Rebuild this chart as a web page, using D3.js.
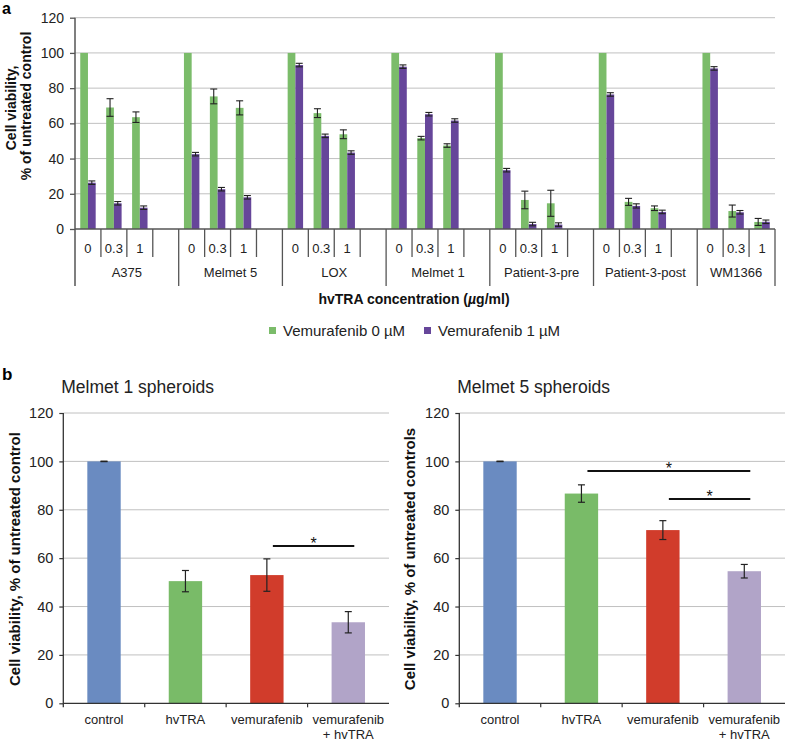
<!DOCTYPE html>
<html lang="en">
<head>
<meta charset="utf-8">
<title>Cell viability</title>
<script src="https://d3js.org/d3.v7.min.js"></script>
<style>
body{margin:0;background:#fff;font-family:"Liberation Sans",Arial,sans-serif;}
.grid line{stroke:#c0c0c0;stroke-width:1;}
</style>
</head>
<body>
<div id="chart"></div>
<script>
// ---- panel a data ----
var cellLines = ["A375","Melmet 5","LOX","Melmet 1","Patient-3-pre","Patient-3-post","WM1366"]
var concLabels = ["0","0.3","1"]
var seriesNames = ["Vemurafenib 0 µM","Vemurafenib 1 µM"]
var vem0 = [100,69,63.5, 100,75.3,68.8, 100,65.8,53.8, 100,51.6,47.4, 100,16.5,14.6, 100,15.4,11.8, 100,10.2,4]
var vem0Err = [0,5,3, 0,4.2,4, 0,2.5,2.5, 0,1,1, 0,5,7.4, 0,2,1.3, 0,3.4,2]
var vem1 = [26.3,14.6,12.1, 42.5,22.6,18, 93.1,52.9,43.4, 92.2,65.2,61.6, 33.4,2.8,2.5, 76.4,13.1,9.7, 91.2,9.5,4.1]
var vem1Err = [1,1,1, 1,1,1, 1,1,1, 1,1,1, 1,1,1, 1,1.2,1, 1,1,1]
var yTicks = [0,20,40,60,80,100,120]

// ---- panel b data ----
var treatments = ["control","hvTRA","vemurafenib","vemurafenib + hvTRA"]
var m1Vals = [100,50.5,53,33.5]
var m1Err = [0.1,4.4,6.7,4.4]
var m5Vals = [100,86.7,71.6,54.6]
var m5Err = [0.1,3.6,3.9,2.8]
// significance bars: [from, to, height]
var m1Sig = [[2,3,65]]
var m5Sig = [[1,3,96],[2,3,84.4]]

var W = 787, H = 742
var svg = d3.select("#chart").append("svg").attr("width",W).attr("height",H)

var green = "#7bbc6a", purple = "#66469a"
var axisCol = "#555"

// ================= panel a =================
var yA = d3.scaleLinear().domain([0,120]).range([229,17.7])

// slots: each cell line has 3 concentrations + an empty slot (except the last)
var slots = []
cellLines.forEach(function(c,i){
    concLabels.forEach(function(k,j){
        slots.push({key:i+"|"+j, line:i, label:k, last:(j==2 && i==cellLines.length-1)})
    })
    if(i < cellLines.length-1) slots.push({key:i+"|b", line:i, label:"", last:true})
})
var xA = d3.scaleBand().domain(slots.map(function(s){return s.key})).range([75,775])
var xSub = d3.scaleBand().domain([0,1]).range([0,xA.bandwidth()]).paddingOuter(0.68)

var ga = svg.append("g")

ga.append("g").attr("class","grid")
    .selectAll("line").data(yTicks.slice(1)).enter().append("line")
    .attr("x1",75).attr("x2",775)
    .attr("y1",function(d){return yA(d)}).attr("y2",function(d){return yA(d)})

ga.append("g").attr("transform","translate(75,0)")
    .call(d3.axisLeft(yA).tickValues(yTicks).tickSize(5).tickPadding(6))
    .call(function(g){
        g.select(".domain").remove()
        g.selectAll("line").attr("stroke",axisCol).attr("stroke-width",1.3)
        g.selectAll("text").attr("font-size",14).attr("fill","#222").attr("font-family","Liberation Sans, Arial, sans-serif")
    })

// bar data
var barsA = []
cellLines.forEach(function(c,i){
    concLabels.forEach(function(k,j){
        var n = i*3+j
        barsA.push({key:i+"|"+j, s:0, v:vem0[n], e:vem0Err[n]})
        barsA.push({key:i+"|"+j, s:1, v:vem1[n], e:vem1Err[n]})
    })
})

ga.selectAll("rect.bar").data(barsA).enter().append("rect")
    .attr("class","bar")
    .attr("x",function(d){return xA(d.key)+xSub(d.s)})
    .attr("width",xSub.bandwidth())
    .attr("y",function(d){return yA(d.v)})
    .attr("height",function(d){return yA(0)-yA(d.v)})
    .attr("fill",function(d){return d.s==0 ? green : purple})

var errA = ga.selectAll("g.err").data(barsA.filter(function(d){return d.e>0})).enter().append("g")
    .attr("stroke","#222").attr("stroke-width",1.1)
errA.append("line")
    .attr("x1",function(d){return xA(d.key)+xSub(d.s)+xSub.bandwidth()/2})
    .attr("x2",function(d){return xA(d.key)+xSub(d.s)+xSub.bandwidth()/2})
    .attr("y1",function(d){return yA(d.v-d.e)}).attr("y2",function(d){return yA(d.v+d.e)})
;[-1,1].forEach(function(sg){
    errA.append("line")
        .attr("x1",function(d){return xA(d.key)+xSub(d.s)+xSub.bandwidth()/2-3.5})
        .attr("x2",function(d){return xA(d.key)+xSub(d.s)+xSub.bandwidth()/2+3.5})
        .attr("y1",function(d){return yA(d.v+sg*d.e)}).attr("y2",function(d){return yA(d.v+sg*d.e)})
})

// axes lines
ga.append("line").attr("x1",75).attr("x2",775).attr("y1",yA(0)).attr("y2",yA(0))
    .attr("stroke",axisCol).attr("stroke-width",1.5)
ga.append("line").attr("x1",75).attr("x2",75).attr("y1",yA(120)).attr("y2",286)
    .attr("stroke",axisCol).attr("stroke-width",1.5)

// category separators and labels
ga.selectAll("line.sep").data(slots).enter().append("line")
    .attr("class","sep")
    .attr("x1",function(d){return xA(d.key)+xA.bandwidth()})
    .attr("x2",function(d){return xA(d.key)+xA.bandwidth()})
    .attr("y1",yA(0))
    .attr("y2",function(d){return d.last ? 286 : 257})
    .attr("stroke",axisCol).attr("stroke-width",1.3)

ga.selectAll("text.conc").data(slots).enter().append("text")
    .attr("class","conc")
    .attr("x",function(d){return xA(d.key)+xA.bandwidth()/2})
    .attr("y",253)
    .attr("text-anchor","middle").attr("font-size",13).attr("fill","#222")
    .text(function(d){return d.label})

ga.selectAll("text.line").data(cellLines).enter().append("text")
    .attr("class","line")
    .attr("x",function(d,i){
        var a = xA(i+"|0"), b = xA(i+"|2")+xA.bandwidth()
        if(i < cellLines.length-1) b = xA(i+"|b")+xA.bandwidth()
        return (a+b)/2
    })
    .attr("y",277)
    .attr("text-anchor","middle").attr("font-size",13).attr("fill","#222")
    .text(function(d){return d})

ga.append("text").attr("x",414).attr("y",304).attr("text-anchor","middle")
    .attr("font-size",14).attr("font-weight","bold").attr("fill","#111")
    .html('hvTRA concentration (<tspan font-style="italic">µ</tspan>g/ml)')

ga.append("text").attr("transform","translate(16,108) rotate(-90)").attr("text-anchor","middle")
    .attr("font-size",14).attr("font-weight","bold").attr("fill","#111")
    .text("Cell viability,")
ga.append("text").attr("transform","translate(31,106) rotate(-90)").attr("text-anchor","middle")
    .attr("font-size",14).attr("font-weight","bold").attr("fill","#111")
    .text("% of untreated control")

// legend
var legX = [269,424]
seriesNames.forEach(function(n,i){
    ga.append("rect").attr("x",legX[i]).attr("y",327).attr("width",7).attr("height",7)
        .attr("fill",i==0 ? green : purple)
    ga.append("text").attr("x",legX[i]+14).attr("y",335.5).attr("font-size",15).attr("fill","#222").text(n)
})

svg.append("text").attr("x",2).attr("y",14).attr("font-size",16).attr("font-weight","bold").text("a")
svg.append("text").attr("x",2).attr("y",380).attr("font-size",17).attr("font-weight","bold").text("b")

// ================= panel b =================
var colorsB = ["#6a8bc1","#79bb68","#d13c2b","#b1a4c8"]

function drawSpheroid(opt){
    var g = svg.append("g")
    var y = d3.scaleLinear().domain([0,120]).range([703.3,413])
    var x = d3.scaleBand().domain(treatments).range([opt.left,opt.right])

    g.append("g").attr("class","grid")
        .selectAll("line").data(yTicks.slice(1)).enter().append("line")
        .attr("x1",opt.left).attr("x2",opt.right)
        .attr("y1",function(d){return y(d)}).attr("y2",function(d){return y(d)})

    g.append("g").attr("transform","translate("+opt.left+",0)")
        .call(d3.axisLeft(y).tickValues(yTicks).tickSize(4).tickPadding(6))
        .call(function(a){
            a.select(".domain").remove()
            a.selectAll("line").attr("stroke","#333").attr("stroke-width",1.2)
            a.selectAll("text").attr("font-size",14.5).attr("fill","#222").attr("font-family","Liberation Sans, Arial, sans-serif")
        })

    var bw = x.bandwidth()*0.41
    g.selectAll("rect").data(opt.vals).enter().append("rect")
        .attr("x",function(d,i){return x(treatments[i])+x.bandwidth()/2-bw/2})
        .attr("width",bw)
        .attr("y",function(d){return y(d)})
        .attr("height",function(d){return y(0)-y(d)})
        .attr("fill",function(d,i){return colorsB[i]})

    var eg = g.selectAll("g.err").data(opt.vals).enter().append("g")
        .attr("stroke","#222").attr("stroke-width",1.2)
    function cx(i){return x(treatments[i])+x.bandwidth()/2}
    eg.append("line")
        .attr("x1",function(d,i){return cx(i)}).attr("x2",function(d,i){return cx(i)})
        .attr("y1",function(d,i){return y(d-opt.errs[i])}).attr("y2",function(d,i){return y(d+opt.errs[i])})
    ;[-1,1].forEach(function(sg){
        eg.append("line")
            .attr("x1",function(d,i){return cx(i)-3.5}).attr("x2",function(d,i){return cx(i)+3.5})
            .attr("y1",function(d,i){return y(d+sg*opt.errs[i])}).attr("y2",function(d,i){return y(d+sg*opt.errs[i])})
    })

    // axes
    g.append("line").attr("x1",opt.left).attr("x2",opt.right).attr("y1",y(0)).attr("y2",y(0))
        .attr("stroke","#333").attr("stroke-width",1.3)
    g.append("line").attr("x1",opt.left).attr("x2",opt.left).attr("y1",y(120)).attr("y2",y(0)+4)
        .attr("stroke","#333").attr("stroke-width",1.3)
    g.selectAll("line.xt").data(treatments.slice(1)).enter().append("line")
        .attr("class","xt")
        .attr("x1",function(d){return x(d)}).attr("x2",function(d){return x(d)})
        .attr("y1",y(0)).attr("y2",y(0)+4)
        .attr("stroke","#333").attr("stroke-width",1.2)

    var lab = g.selectAll("text.cat").data(treatments).enter().append("text")
        .attr("class","cat")
        .attr("text-anchor","middle").attr("font-size",13).attr("fill","#222")
    lab.each(function(d){
        var parts = d.indexOf(" + ")>=0 ? [d.split(" + ")[0],"+ "+d.split(" + ")[1]] : [d]
        var t = d3.select(this)
        parts.forEach(function(p,k){
            t.append("tspan").attr("x",x(d)+x.bandwidth()/2).attr("y",724+k*15).text(p)
        })
    })

    // significance
    opt.sigs.forEach(function(s){
        var x1 = cx(s[0])+6, x2 = cx(s[1])+6
        g.append("line").attr("x1",x1).attr("x2",x2).attr("y1",y(s[2])).attr("y2",y(s[2]))
            .attr("stroke","#111").attr("stroke-width",2)
        g.append("text").attr("x",(x1+x2)/2).attr("y",y(s[2])+3).attr("text-anchor","middle")
            .attr("font-size",16).attr("fill","#111").text("*")
    })

    g.append("text").attr("x",opt.left-2).attr("y",393).attr("font-size",17.5).attr("fill","#222").text(opt.title)
    g.append("text").attr("transform","translate("+opt.labX+",559) rotate(-90)").attr("text-anchor","middle")
        .attr("font-size",15).attr("font-weight","bold").attr("fill","#111").text(opt.ylabel)
}

drawSpheroid({left:63.3, right:389, vals:m1Vals, errs:m1Err, sigs:m1Sig, title:"Melmet 1 spheroids",
    ylabel:"Cell viability, % of untreated control", labX:19.5})
drawSpheroid({left:459.3, right:785, vals:m5Vals, errs:m5Err, sigs:m5Sig, title:"Melmet 5 spheroids",
    ylabel:"Cell viability, % of untreated controls", labX:414.5})
</script>
</body>
</html>
